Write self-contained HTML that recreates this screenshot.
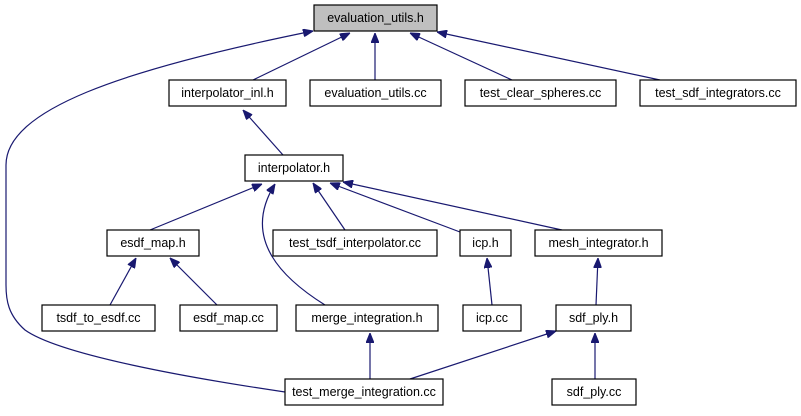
<!DOCTYPE html>
<html><head><meta charset="utf-8"><style>
html,body{margin:0;padding:0;background:#fff;}
svg text{font-family:"Liberation Sans",Arial,sans-serif;font-size:12.5px;fill:#000;text-anchor:middle;}
</style></head><body>
<svg width="801" height="411" viewBox="0 0 801 411" xmlns="http://www.w3.org/2000/svg">
<defs><marker id="a" viewBox="0 0 10 8" refX="10" refY="4" markerWidth="10" markerHeight="8" markerUnits="userSpaceOnUse" orient="auto"><path d="M0,0 L10,4 L0,8 Z" fill="#191970" stroke="#191970"/></marker></defs>
<g fill="none" stroke="#191970" stroke-width="1.2" marker-end="url(#a)">
<path d="M285,392 C190,378 60,355 25,330 C8,315 6,300 6,285 L6,165 C6,110 120,70 313,31"/>
<path d="M253,80 L350,33"/>
<path d="M375,80 L375,33"/>
<path d="M512,80 L410,33"/>
<path d="M660,80 L437,32"/>
<path d="M283,155 L243,110"/>
<path d="M150,230 L262,184"/>
<path d="M345,230 L313,183"/>
<path d="M460,232 L330,183"/>
<path d="M562,230 L343,182"/>
<path d="M325,305 C285,280 240,240 275,184"/>
<path d="M110,305 L136,258"/>
<path d="M217,305 L170,258"/>
<path d="M492,305 L487,258"/>
<path d="M596,305 L598,258"/>
<path d="M370,379 L370,333"/>
<path d="M410,379 L556,331"/>
<path d="M595,379 L595,333"/>
</g>
<g stroke="#000" stroke-width="1.2" fill="#fff">
<rect x="314" y="5" width="123" height="26" fill="#bfbfbf"/>
<rect x="169" y="80" width="117" height="26"/>
<rect x="310" y="80" width="131" height="26"/>
<rect x="465" y="80" width="151" height="26"/>
<rect x="640" y="80" width="156" height="26"/>
<rect x="245" y="155" width="98" height="26"/>
<rect x="107" y="230" width="92" height="26"/>
<rect x="273" y="230" width="164" height="26"/>
<rect x="460" y="230" width="51" height="26"/>
<rect x="535" y="230" width="127" height="26"/>
<rect x="42" y="305" width="113" height="26"/>
<rect x="180" y="305" width="97" height="26"/>
<rect x="296" y="305" width="142" height="26"/>
<rect x="463" y="305" width="58" height="26"/>
<rect x="556" y="305" width="75" height="26"/>
<rect x="285" y="379" width="158" height="26"/>
<rect x="552" y="379" width="84" height="26"/>
</g>
<text x="375.5" y="22">evaluation_utils.h</text>
<text x="227.5" y="97">interpolator_inl.h</text>
<text x="375.5" y="97">evaluation_utils.cc</text>
<text x="540.5" y="97">test_clear_spheres.cc</text>
<text x="718" y="97">test_sdf_integrators.cc</text>
<text x="294" y="172">interpolator.h</text>
<text x="153" y="247">esdf_map.h</text>
<text x="355" y="247">test_tsdf_interpolator.cc</text>
<text x="485.5" y="247">icp.h</text>
<text x="598.5" y="247">mesh_integrator.h</text>
<text x="98.5" y="322">tsdf_to_esdf.cc</text>
<text x="228.5" y="322">esdf_map.cc</text>
<text x="367" y="322">merge_integration.h</text>
<text x="492" y="322">icp.cc</text>
<text x="593.5" y="322">sdf_ply.h</text>
<text x="364" y="396">test_merge_integration.cc</text>
<text x="594" y="396">sdf_ply.cc</text>
</svg>
</body></html>
